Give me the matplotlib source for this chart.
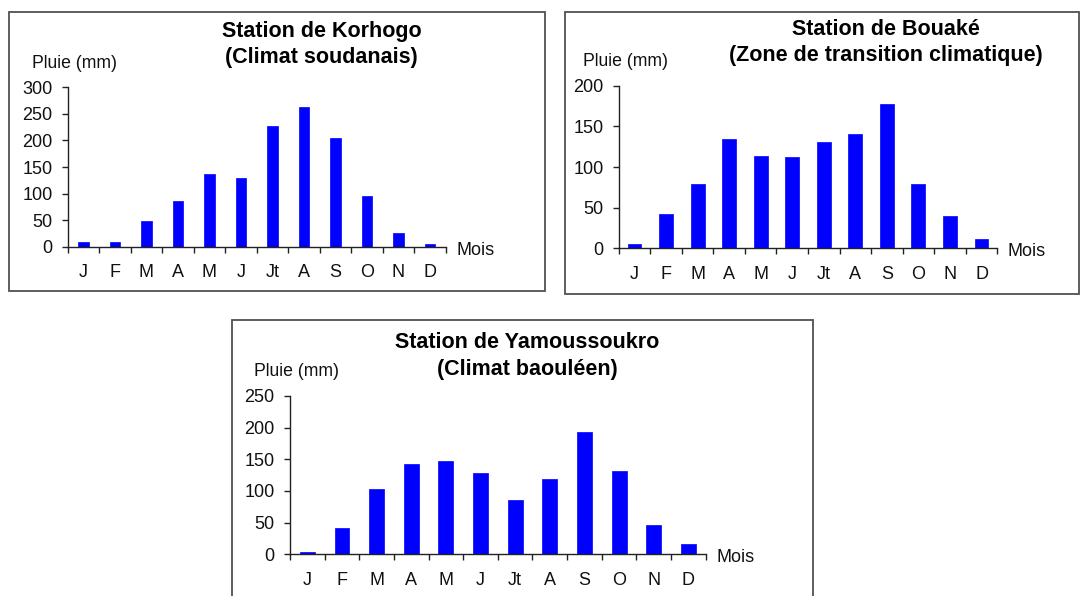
import matplotlib
matplotlib.use("Agg")
import matplotlib.pyplot as plt
from matplotlib.patches import Rectangle

plt.rcParams['font.family'] = ['Liberation Sans', 'DejaVu Sans']

mois = ["J", "F", "M", "A", "M", "J", "Jt", "A", "S", "O", "N", "D"]

korhogo = [8, 8, 49, 86, 136, 129, 228, 262, 204, 95, 25, 6]
bouake = [5, 42, 79, 134, 114, 112, 131, 140, 178, 79, 40, 12]
yamoussoukro = [4, 42, 103, 143, 147, 129, 85, 119, 193, 131, 46, 16]

titles = [
    ("Station de Korhogo", "(Climat soudanais)"),
    ("Station de Bouaké", "(Zone de transition climatique)"),
    ("Station de Yamoussoukro", "(Climat baouléen)"),
]

W, H = 1081, 596
fig = plt.figure(figsize=(W / 100, H / 100), dpi=100)


def fx(px):
    return px / W


def fy(py):
    return 1 - py / H


def box(l, t, r, b):
    fig.patches.append(Rectangle((fx(l), fy(b)), fx(r) - fx(l), fy(t) - fy(b),
                                 transform=fig.transFigure, fill=False,
                                 edgecolor="#505050", linewidth=1.3))


def chart(l, t, r, b, values, ymax, step, width, title, tx, ty1, ty2):
    ax = fig.add_axes([fx(l), fy(b), fx(r) - fx(l), fy(t) - fy(b)])
    x = list(range(len(values)))
    ax.bar(x, values, width=width, color="#0000FF", edgecolor="#0000FF", linewidth=0.5)
    ax.set_xlim(-0.5, len(values) - 0.5)
    ax.set_ylim(0, ymax)
    ax.set_yticks(list(range(0, ymax + 1, step)))
    ax.set_xticks([i - 0.5 for i in range(len(values) + 1)])
    ax.set_xticklabels([])
    ax.set_xticks(x, minor=True)
    ax.set_xticklabels(mois, minor=True)
    for s in ("top", "right"):
        ax.spines[s].set_visible(False)
    for s in ("left", "bottom"):
        ax.spines[s].set_color("#222222")
        ax.spines[s].set_linewidth(1.0)
    ax.tick_params(axis="y", direction="out", length=4.5, width=1.0, color="#222222",
                   labelsize=13, pad=6.5, labelcolor="#111111")
    ax.tick_params(axis="x", which="major", direction="out", length=4.5, width=1.0,
                   color="#222222")
    ax.tick_params(axis="x", which="minor", length=0, labelsize=13, pad=12.5,
                   labelcolor="#111111")
    ax.annotate("Mois", xy=(1, 0), xycoords="axes fraction", xytext=(7.5, -2.5),
                textcoords="offset points", ha="left", va="center", fontsize=13,
                color="#111111")
    ax.annotate("Pluie (mm)", xy=(0, 1), xycoords="axes fraction", xytext=(-25.7, 17.3),
                textcoords="offset points", ha="left", va="center", fontsize=12.7,
                color="#111111")
    fig.text(fx(tx), fy(ty1), title[0], ha="center", va="center", fontsize=15.5,
             fontweight="bold", color="#000000")
    fig.text(fx(tx), fy(ty2), title[1], ha="center", va="center", fontsize=15.5,
             fontweight="bold", color="#000000")
    return ax


box(9.3, 12.3, 545, 290.7)
box(565, 11.7, 1079, 294.3)
box(232.3, 320, 813.3, 640)

chart(67.7, 87.3, 445.7, 246.7, korhogo, 300, 50, 0.33, titles[0], 321.6, 31, 57)
chart(618.7, 85.7, 997.3, 248.3, bouake, 200, 50, 0.44, titles[1], 885.5, 29.3, 56)
chart(290, 396, 705.7, 554.3, yamoussoukro, 250, 50, 0.43, titles[2], 527, 343, 370)

fig.savefig("out.png", dpi=100)
